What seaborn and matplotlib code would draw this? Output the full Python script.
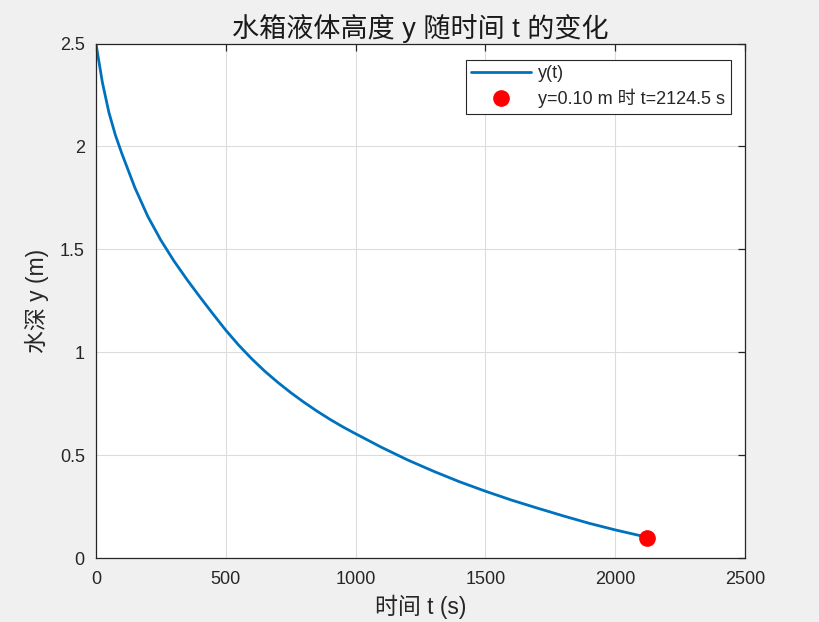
import matplotlib
matplotlib.use("Agg")
import matplotlib.pyplot as plt
import seaborn as sns
import pandas as pd

# values
t_vals = [0, 25, 50, 75, 100, 150, 200, 250, 300, 350, 400, 450, 500, 550,
          600, 650, 700, 750, 800, 850, 900, 950, 1000, 1100, 1200, 1300,
          1400, 1500, 1600, 1700, 1800, 1900, 2000, 2100, 2124.5]
y_vals = [2.5, 2.31, 2.165, 2.055, 1.965, 1.80, 1.66, 1.545, 1.445, 1.355,
          1.27, 1.188, 1.108, 1.035, 0.969, 0.909, 0.855, 0.805, 0.759,
          0.716, 0.676, 0.639, 0.605, 0.539, 0.478, 0.423, 0.372, 0.326,
          0.283, 0.244, 0.206, 0.170, 0.138, 0.109, 0.10]
t_hit = [2124.5]
y_hit = [0.10]
x_ticks = [0, 500, 1000, 1500, 2000, 2500]
y_ticks = [0, 0.5, 1, 1.5, 2, 2.5]
y_tick_labels = ["0", "0.5", "1", "1.5", "2", "2.5"]

sns.set_style("white")
plt.rcParams['font.family'] = ['Liberation Sans', 'Noto Sans CJK SC', 'DejaVu Sans']
plt.rcParams['axes.unicode_minus'] = False

df = pd.DataFrame({"t": t_vals, "y": y_vals})

fig = plt.figure(figsize=(8.2, 6.22), dpi=100, facecolor="#f0f0f0")
ax = fig.add_axes([0.117, 0.1024, 0.7915, 0.8276])
ax.set_facecolor("white")

sns.lineplot(data=df, x="t", y="y", ax=ax, color="#0072BD", linewidth=2.0,
             label="y(t)", sort=False)
ax.plot(t_hit, y_hit, "o", color="red", markersize=11, linestyle="none",
        label="y=0.10 m 时 t=2124.5 s")

ax.set_xlim(0, 2500)
ax.set_ylim(0, 2.5)
ax.set_xticks(x_ticks)
ax.set_yticks(y_ticks)
ax.set_yticklabels(y_tick_labels)
ax.grid(True, color="#dcdcdc", linewidth=0.8)
ax.set_axisbelow(True)

for s in ax.spines.values():
    s.set_color("#262626")
    s.set_linewidth(0.9)
    s.set_visible(True)
ax.tick_params(direction="in", length=5, width=0.9, colors="#262626",
               labelsize=13, top=True, right=True)
ax.tick_params(axis="x", pad=9)
ax.tick_params(axis="y", pad=8)

ax.set_xlabel("时间 t (s)", fontsize=16.5, color="#262626", labelpad=5)
ax.set_ylabel("水深 y (m)", fontsize=16.5, color="#262626", labelpad=8)
ax.set_title("水箱液体高度 y 随时间 t 的变化", fontsize=19.5, color="#1a1a1a", pad=5)

leg = ax.legend(loc="upper right", bbox_to_anchor=(0.978, 0.968), fontsize=13,
                frameon=True, fancybox=False, edgecolor="#262626",
                framealpha=1, handlelength=3.3, borderpad=0.3,
                labelspacing=0.35, handletextpad=0.4, borderaxespad=0)
leg.get_frame().set_linewidth(0.8)

fig.savefig("out.png", dpi=100, facecolor=fig.get_facecolor())
